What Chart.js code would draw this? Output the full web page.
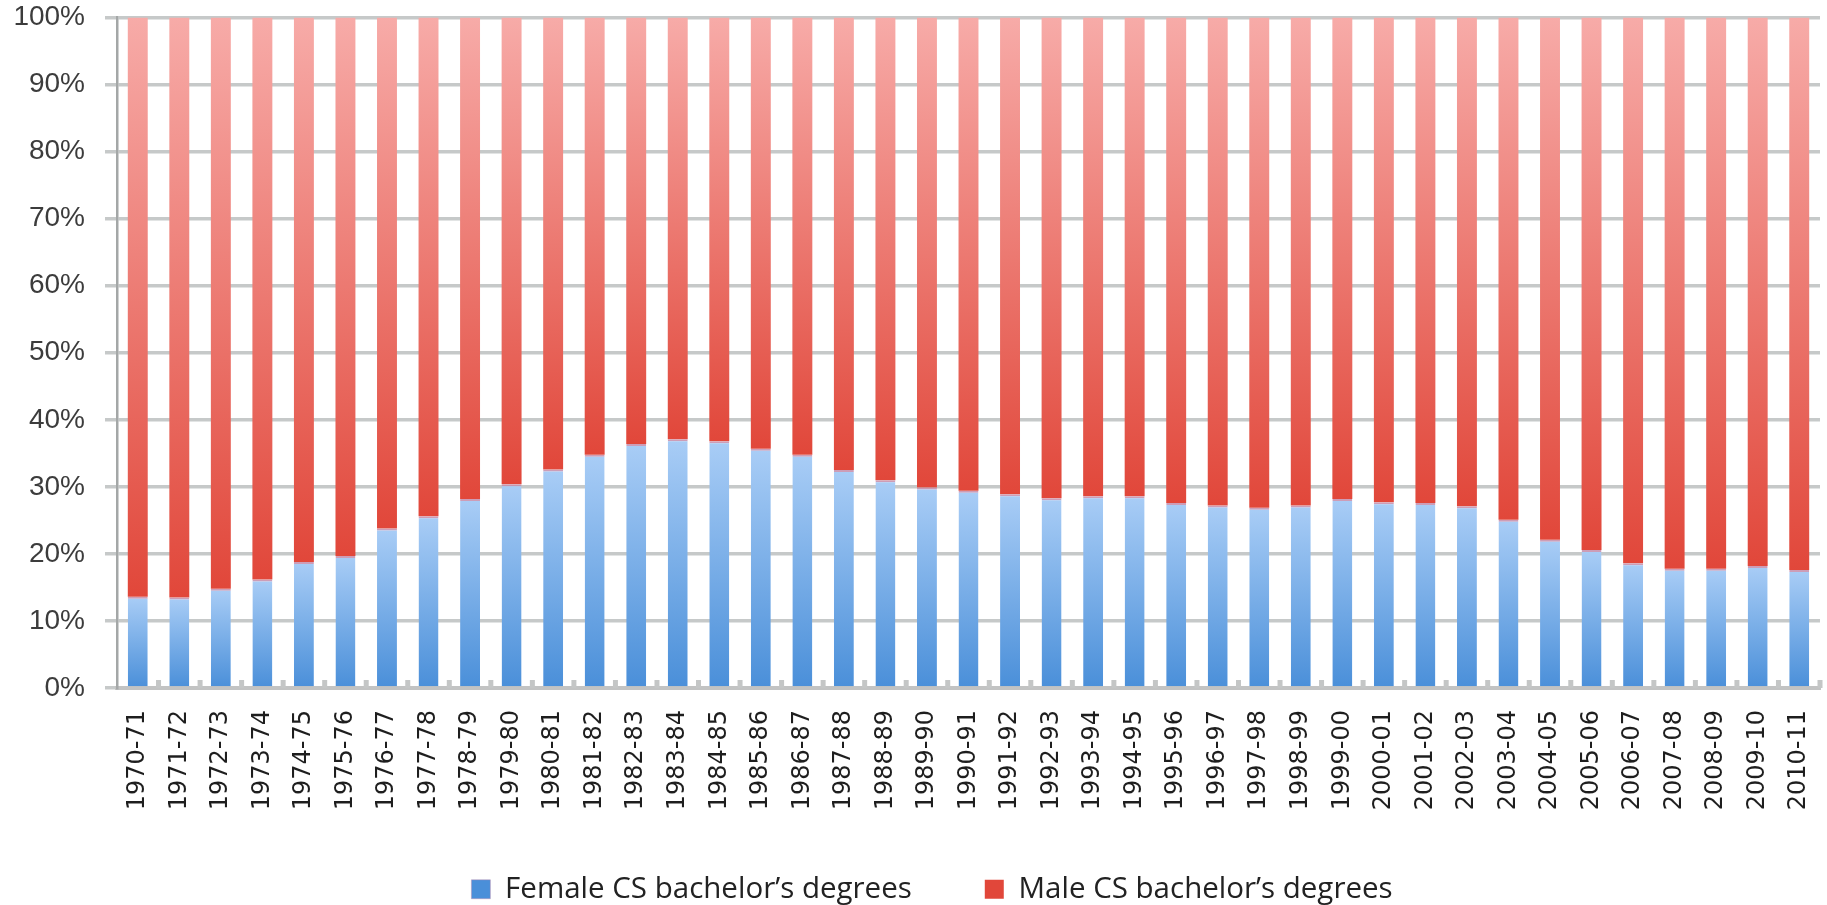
<!DOCTYPE html>
<html>
<head>
<meta charset="utf-8">
<script src="https://cdn.jsdelivr.net/npm/chart.js@4/dist/chart.umd.min.js"></script>
<style>
  html, body { margin: 0; padding: 0; background: #ffffff; }
  #wrap { width: 1827px; height: 905px; }
</style>
</head>
<body>
<div id="wrap"><canvas id="c" width="1827" height="905"></canvas></div>
<script>
const categories = [
  "1970-71","1971-72","1972-73","1973-74","1974-75","1975-76","1976-77","1977-78","1978-79","1979-80",
  "1980-81","1981-82","1982-83","1983-84","1984-85","1985-86","1986-87","1987-88","1988-89","1989-90",
  "1990-91","1991-92","1992-93","1993-94","1994-95","1995-96","1996-97","1997-98","1998-99","1999-00",
  "2000-01","2001-02","2002-03","2003-04","2004-05","2005-06","2006-07","2007-08","2008-09","2009-10",
  "2010-11"
];
const femaleShare = [
  13.6, 13.5, 14.8, 16.2, 18.8, 19.7, 23.8, 25.6, 28.2, 30.4,
  32.6, 34.8, 36.4, 37.1, 36.8, 35.7, 34.8, 32.5, 31.0, 29.9,
  29.4, 28.9, 28.3, 28.6, 28.6, 27.6, 27.2, 26.9, 27.2, 28.2,
  27.7, 27.6, 27.1, 25.1, 22.1, 20.6, 18.6, 17.8, 17.8, 18.2,
  17.6
];
const maleShare = [
  86.4, 86.5, 85.2, 83.8, 81.2, 80.3, 76.2, 74.4, 71.8, 69.6,
  67.4, 65.2, 63.6, 62.9, 63.2, 64.3, 65.2, 67.5, 69.0, 70.1,
  70.6, 71.1, 71.7, 71.4, 71.4, 72.4, 72.8, 73.1, 72.8, 71.8,
  72.3, 72.4, 72.9, 74.9, 77.9, 79.4, 81.4, 82.2, 82.2, 81.8,
  82.4
];
const seriesNames = ["Female CS bachelor\u2019s degrees", "Male CS bachelor\u2019s degrees"];
const yTickValues = [0, 10, 20, 30, 40, 50, 60, 70, 80, 90, 100];

function segGradient(ctx, which, topColor, bottomColor, flat) {
  const chart = ctx.chart;
  if (!chart.chartArea || ctx.type !== 'data') return flat;
  const y = chart.scales.y;
  const i = ctx.dataIndex;
  let lo, hi;
  if (which === 'female') { lo = 0; hi = femaleShare[i]; }
  else { lo = femaleShare[i]; hi = femaleShare[i] + maleShare[i]; }
  const yTop = y.getPixelForValue(hi);
  const yBot = y.getPixelForValue(lo);
  if (!isFinite(yTop) || !isFinite(yBot) || yTop === yBot) return flat;
  const g = chart.ctx.createLinearGradient(0, yTop, 0, yBot);
  g.addColorStop(0, topColor);
  g.addColorStop(1, bottomColor);
  return g;
}

// Let tick labels extend beyond their layout boxes (no clipping).
const unclipLabels = {
  id: 'unclipLabels',
  afterLayout(chart) {
    chart.scales.y.left = 0;
    chart.scales.x.bottom = chart.height;
  }
};

const baseTicks = {
  id: 'baseTicks',
  beforeDatasetsDraw(chart) {
    const x = chart.scales.x, y = chart.scales.y;
    const n = categories.length;
    const step = x.getPixelForTick(1) - x.getPixelForTick(0);
    const y0 = y.getPixelForValue(0);
    const c = chart.ctx;
    c.save();
    c.fillStyle = '#c4c6c6';
    for (let k = 1; k <= n; k++) {
      const bx = x.getPixelForTick(0) - step / 2 + k * step;
      c.fillRect(bx - 2.5, y0 - 8, 5, 8);
    }
    c.restore();
  }
};

new Chart(document.getElementById('c'), {
  type: 'bar',
  data: {
    labels: categories,
    datasets: [
      {
        label: seriesNames[0],
        data: femaleShare,
        backgroundColor: (ctx) => segGradient(ctx, 'female', '#a9cdf6', '#4a8fd9', '#6fa8e8'),
        borderColor: 'rgba(196,140,170,0.85)',
        borderWidth: { top: 2, left: 0, right: 0, bottom: 0 },
        borderSkipped: false,
        barPercentage: 0.48,
        categoryPercentage: 1.0
      },
      {
        label: seriesNames[1],
        data: maleShare,
        backgroundColor: (ctx) => segGradient(ctx, 'male', '#f7aba8', '#e1473a', '#ec6f66'),
        borderWidth: 0,
        barPercentage: 0.48,
        categoryPercentage: 1.0
      }
    ]
  },
  options: {
    responsive: false,
    devicePixelRatio: 1,
    animation: false,
    layout: { padding: { left: 44, right: 7, top: 0, bottom: 0 } },
    plugins: {
      title: { display: false },
      tooltip: { enabled: false },
      legend: {
        position: 'bottom',
        maxHeight: 103.5,
        labels: {
          boxWidth: 19,
          boxHeight: 19,
          padding: 73,
          color: '#222222',
          font: { family: '"Open Sans", "Noto Sans", sans-serif', size: 29.5 }
        }
      }
    },
    scales: {
      x: {
        stacked: true,
        grid: { display: false, drawTicks: false },
        border: { display: true, color: '#c2c3c3', width: 4 },
        ticks: {
          autoSkip: false,
          maxRotation: 90,
          minRotation: 90,
          padding: 22,
          color: '#1e1e1e',
          font: { family: '"DejaVu Sans", sans-serif', size: 24 }
        },
        afterFit(scale) {
          scale.height = 113.5;
          scale.paddingRight = 0;
          scale.paddingLeft = 0;
        }
      },
      y: {
        stacked: true,
        min: 0,
        max: 100,
        afterBuildTicks(scale) {
          scale.ticks = yTickValues.map(v => ({ value: v }));
        },
        grid: { color: '#c6c9c9', lineWidth: 3.5, drawTicks: true, tickLength: 12 },
        border: { display: true, color: '#a4a7a7', width: 2.5 },
        ticks: {
          padding: 20,
          color: '#3c3c3c',
          font: { family: '"Liberation Sans", Arial, sans-serif', size: 28 },
          callback: (v) => v + '%'
        },
        afterFit(scale) {
          scale.width = 73;
          scale.paddingTop = 17.5;
          scale.paddingBottom = 0;
        }
      }
    }
  },
  plugins: [unclipLabels, baseTicks]
});
</script>
</body>
</html>
